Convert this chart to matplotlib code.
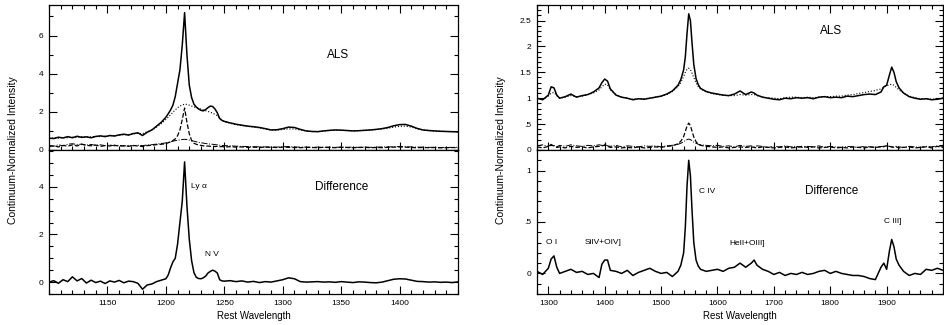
import matplotlib
matplotlib.use("Agg")
import matplotlib.pyplot as plt
from matplotlib.ticker import MultipleLocator, FuncFormatter

plt.rcParams['font.family'] = ['Liberation Sans', 'DejaVu Sans']

# ---- left panel (Ly alpha region) ----
wl_left = [1100, 1104, 1108, 1112, 1116, 1120, 1124, 1128, 1132, 1136, 1140, 1144, 1148,
           1152, 1156, 1160, 1164, 1168, 1172, 1176, 1180, 1184, 1188, 1192, 1196,
           1200, 1202, 1204, 1206, 1208, 1210, 1212, 1214, 1216, 1218, 1220, 1222, 1224,
           1226, 1228, 1230, 1232, 1234, 1236, 1238, 1240, 1242, 1244, 1246, 1248, 1250,
           1255, 1260, 1265, 1270, 1275, 1280, 1285, 1290, 1295, 1300, 1305, 1310, 1315,
           1320, 1325, 1330, 1335, 1340, 1345, 1350, 1355, 1360, 1365, 1370, 1375, 1380,
           1385, 1390, 1395, 1400, 1405, 1410, 1415, 1420, 1425, 1430, 1435, 1440, 1445, 1450]

als_left = [0.62, 0.60, 0.67, 0.63, 0.70, 0.64, 0.72, 0.66, 0.69, 0.64, 0.71, 0.74, 0.70,
            0.76, 0.73, 0.79, 0.83, 0.78, 0.86, 0.90, 0.76, 0.93, 1.05, 1.25, 1.45,
            1.72, 1.90, 2.10, 2.35, 2.80, 3.50, 4.20, 5.50, 7.20, 5.00, 3.40, 2.75, 2.40,
            2.25, 2.15, 2.08, 2.05, 2.12, 2.22, 2.30, 2.28, 2.15, 1.95, 1.65, 1.55, 1.50,
            1.42, 1.35, 1.30, 1.25, 1.22, 1.18, 1.12, 1.05, 1.06, 1.12, 1.20, 1.18, 1.08,
            1.00, 0.97, 0.96, 1.00, 1.03, 1.05, 1.04, 1.02, 1.00, 1.01, 1.03, 1.05, 1.08,
            1.12, 1.18, 1.27, 1.33, 1.34, 1.25, 1.13, 1.05, 1.02, 1.00, 0.98, 0.97, 0.96, 0.95]

broad_left = [0.60, 0.63, 0.62, 0.66, 0.64, 0.68, 0.66, 0.70, 0.67, 0.69, 0.71, 0.70, 0.73,
              0.74, 0.76, 0.77, 0.80, 0.81, 0.84, 0.87, 0.86, 0.95, 1.05, 1.20, 1.38,
              1.60, 1.72, 1.85, 1.98, 2.10, 2.22, 2.30, 2.36, 2.40, 2.39, 2.35, 2.30, 2.26,
              2.22, 2.18, 2.14, 2.10, 2.06, 2.02, 1.98, 1.93, 1.87, 1.80, 1.68, 1.56, 1.48,
              1.40, 1.33, 1.28, 1.24, 1.20, 1.16, 1.10, 1.05, 1.04, 1.07, 1.11, 1.10, 1.05,
              1.00, 0.97, 0.97, 0.99, 1.02, 1.03, 1.03, 1.02, 1.01, 1.02, 1.03, 1.05, 1.07,
              1.10, 1.14, 1.20, 1.24, 1.25, 1.20, 1.11, 1.05, 1.02, 1.00, 0.98, 0.97, 0.96, 0.95]

narrow_left = [0.18, 0.22, 0.16, 0.24, 0.20, 0.27, 0.21, 0.30, 0.24, 0.22, 0.26, 0.19, 0.23,
               0.21, 0.25, 0.20, 0.22, 0.19, 0.24, 0.21, 0.18, 0.23, 0.25, 0.28, 0.30,
               0.33, 0.38, 0.42, 0.50, 0.58, 0.75, 1.05, 1.60, 2.20, 1.45, 0.85, 0.50, 0.35,
               0.30, 0.26, 0.24, 0.22, 0.20, 0.21, 0.19, 0.20, 0.18, 0.19, 0.17, 0.18, 0.16,
               0.17, 0.15, 0.16, 0.14, 0.15, 0.13, 0.15, 0.14, 0.13, 0.15, 0.14, 0.13, 0.12,
               0.14, 0.13, 0.12, 0.14, 0.13, 0.12, 0.14, 0.13, 0.12, 0.13, 0.14, 0.12, 0.13,
               0.12, 0.14, 0.15, 0.16, 0.15, 0.13, 0.12, 0.13, 0.12, 0.13, 0.11, 0.12, 0.13, 0.12]

other_left = [0.24, 0.20, 0.27, 0.22, 0.30, 0.33, 0.28, 0.31, 0.26, 0.29, 0.24, 0.27, 0.23,
              0.26, 0.22, 0.25, 0.21, 0.24, 0.22, 0.25, 0.23, 0.26, 0.28, 0.31, 0.34,
              0.37, 0.40, 0.43, 0.46, 0.49, 0.51, 0.53, 0.55, 0.56, 0.55, 0.52, 0.49, 0.46,
              0.43, 0.40, 0.38, 0.36, 0.34, 0.32, 0.31, 0.30, 0.28, 0.27, 0.25, 0.24, 0.23,
              0.22, 0.20, 0.19, 0.18, 0.17, 0.17, 0.16, 0.16, 0.15, 0.17, 0.18, 0.16, 0.15,
              0.15, 0.14, 0.15, 0.14, 0.15, 0.14, 0.15, 0.14, 0.15, 0.14, 0.15, 0.14, 0.15,
              0.16, 0.16, 0.17, 0.18, 0.17, 0.16, 0.15, 0.15, 0.14, 0.14, 0.13, 0.14, 0.13, 0.14]

diff_left = [0.00, 0.06, -0.05, 0.10, 0.02, 0.22, 0.05, 0.15, -0.04, 0.08, -0.02, 0.04, -0.06,
             0.05, 0.00, 0.07, -0.03, 0.04, 0.02, -0.05, -0.30, -0.12, -0.08, 0.02, 0.08,
             0.14, 0.30, 0.60, 0.85, 1.00, 1.60, 2.50, 3.40, 5.05, 3.20, 1.80, 0.90, 0.40,
             0.20, 0.15, 0.14, 0.18, 0.25, 0.38, 0.45, 0.50, 0.46, 0.38, 0.10, 0.05, 0.04,
             0.06, 0.02, 0.05, 0.00, 0.03, -0.02, 0.02, 0.00, 0.05, 0.10, 0.18, 0.14, 0.02,
             0.00, 0.01, 0.02, 0.00, 0.01, -0.01, 0.02, 0.00, -0.02, 0.01, 0.00, -0.02, -0.03,
             0.00, 0.06, 0.12, 0.14, 0.13, 0.08, 0.03, 0.02, 0.00, 0.01, -0.01, 0.00, -0.02, 0.01]

# ---- right panel (C IV region) ----
wl_right = [1280, 1290, 1300, 1305, 1310, 1315, 1320, 1330, 1340, 1350, 1360, 1370, 1380,
            1390, 1395, 1400, 1405, 1410, 1420, 1430, 1440, 1450, 1460, 1470, 1480, 1490,
            1500, 1510, 1520, 1530, 1535, 1540, 1543, 1546, 1549, 1552, 1555, 1558, 1562,
            1566, 1570, 1580, 1590, 1600, 1610, 1620, 1630, 1640, 1650, 1660, 1665, 1670,
            1680, 1690, 1700, 1710, 1720, 1730, 1740, 1750, 1760, 1770, 1780, 1790, 1800,
            1810, 1820, 1830, 1840, 1850, 1860, 1870, 1880, 1890, 1895, 1900, 1905, 1909,
            1913, 1917, 1922, 1930, 1940, 1950, 1960, 1970, 1980, 1990, 2000]

als_right = [1.00, 0.97, 1.06, 1.22, 1.20, 1.06, 1.00, 1.03, 1.08, 1.02, 1.05, 1.07, 1.12,
             1.20, 1.30, 1.37, 1.33, 1.18, 1.06, 1.02, 1.00, 0.97, 0.99, 0.98, 1.00, 1.02,
             1.04, 1.08, 1.14, 1.25, 1.36, 1.55, 1.80, 2.25, 2.63, 2.50, 2.05, 1.65, 1.38,
             1.26, 1.19, 1.13, 1.10, 1.08, 1.06, 1.05, 1.08, 1.14, 1.07, 1.12, 1.10, 1.06,
             1.02, 1.00, 0.98, 0.97, 1.00, 0.99, 1.01, 1.00, 1.01, 0.99, 1.02, 1.03, 1.01,
             1.02, 1.01, 1.04, 1.03, 1.05, 1.07, 1.08, 1.07, 1.12, 1.22, 1.25, 1.45, 1.60,
             1.50, 1.32, 1.20, 1.10, 1.03, 1.00, 0.98, 0.99, 0.97, 0.98, 1.00]

broad_right = [1.00, 0.98, 1.04, 1.10, 1.11, 1.05, 1.00, 1.02, 1.05, 1.03, 1.04, 1.07, 1.10,
               1.16, 1.22, 1.27, 1.26, 1.16, 1.07, 1.02, 1.00, 0.98, 0.99, 0.99, 1.00, 1.02,
               1.04, 1.07, 1.13, 1.22, 1.30, 1.42, 1.50, 1.56, 1.58, 1.55, 1.48, 1.40, 1.30,
               1.22, 1.18, 1.12, 1.09, 1.07, 1.06, 1.05, 1.05, 1.07, 1.06, 1.07, 1.07, 1.05,
               1.02, 1.01, 1.00, 0.99, 1.01, 1.02, 1.02, 1.01, 1.02, 1.01, 1.02, 1.03, 1.03,
               1.04, 1.04, 1.06, 1.07, 1.09, 1.11, 1.13, 1.15, 1.18, 1.21, 1.24, 1.26, 1.27,
               1.25, 1.21, 1.16, 1.10, 1.04, 1.01, 0.99, 0.99, 0.98, 0.99, 1.00]

narrow_right = [0.06, 0.04, 0.07, 0.09, 0.08, 0.05, 0.06, 0.04, 0.07, 0.05, 0.06, 0.04, 0.06,
                0.07, 0.08, 0.09, 0.07, 0.05, 0.06, 0.04, 0.05, 0.04, 0.06, 0.04, 0.05, 0.06,
                0.05, 0.07, 0.08, 0.12, 0.17, 0.26, 0.36, 0.46, 0.52, 0.47, 0.36, 0.25, 0.16,
                0.11, 0.09, 0.07, 0.06, 0.05, 0.06, 0.04, 0.05, 0.06, 0.05, 0.06, 0.05, 0.04,
                0.06, 0.05, 0.04, 0.05, 0.06, 0.04, 0.05, 0.07, 0.05, 0.06, 0.04, 0.05, 0.06,
                0.04, 0.05, 0.04, 0.06, 0.05, 0.04, 0.06, 0.05, 0.06, 0.07, 0.08, 0.07, 0.06,
                0.05, 0.06, 0.04, 0.05, 0.06, 0.04, 0.05, 0.06, 0.04, 0.07, 0.05]

other_right = [0.08, 0.10, 0.07, 0.11, 0.09, 0.06, 0.09, 0.07, 0.10, 0.08, 0.07, 0.09, 0.08,
               0.10, 0.09, 0.11, 0.08, 0.07, 0.09, 0.06, 0.08, 0.07, 0.06, 0.08, 0.07, 0.08,
               0.06, 0.08, 0.09, 0.11, 0.13, 0.16, 0.18, 0.20, 0.21, 0.20, 0.18, 0.15, 0.13,
               0.11, 0.10, 0.09, 0.08, 0.09, 0.07, 0.08, 0.06, 0.09, 0.07, 0.08, 0.06, 0.08,
               0.07, 0.05, 0.07, 0.06, 0.08, 0.06, 0.07, 0.05, 0.07, 0.06, 0.08, 0.05, 0.07,
               0.06, 0.05, 0.07, 0.06, 0.05, 0.07, 0.06, 0.05, 0.07, 0.06, 0.08, 0.07, 0.06,
               0.05, 0.07, 0.06, 0.05, 0.07, 0.06, 0.05, 0.07, 0.06, 0.08, 0.07]

diff_right = [0.02, -0.01, 0.05, 0.14, 0.17, 0.06, 0.00, 0.02, 0.04, 0.01, 0.02, -0.01, 0.00,
              -0.04, 0.09, 0.13, 0.13, 0.03, 0.02, 0.00, 0.03, -0.02, 0.01, 0.03, 0.05, 0.02,
              0.00, 0.01, -0.03, 0.02, 0.08, 0.20, 0.45, 0.85, 1.10, 0.95, 0.60, 0.30, 0.13,
              0.07, 0.04, 0.02, 0.03, 0.04, 0.02, 0.05, 0.06, 0.10, 0.06, 0.10, 0.13, 0.08,
              0.04, 0.02, -0.01, 0.01, -0.02, 0.00, -0.01, 0.01, -0.01, 0.00, 0.02, 0.03, 0.00,
              0.02, 0.00, -0.01, -0.02, -0.02, -0.03, -0.05, -0.06, 0.06, 0.10, 0.04, 0.22, 0.33,
              0.26, 0.14, 0.08, 0.02, -0.02, 0.00, -0.01, 0.04, 0.03, 0.05, 0.03]

left_ticks = [1150, 1200, 1250, 1300, 1350, 1400]
right_ticks = [1300, 1400, 1500, 1600, 1700, 1800, 1900]

left_lines = ["Ly \u03b1", "N V"]
left_line_pos = [(1228, 4.0), (1239, 1.18)]
right_lines = ["O I", "SiIV+OIV]", "C IV", "HeII+OIII]", "C III]"]
right_line_pos = [(1305, 0.30), (1397, 0.30), (1581, 0.80), (1652, 0.29), (1910, 0.50)]


def nolead(v, pos):
    s = ("%g" % v)
    if s.startswith("0."):
        s = s[1:]
    return s


def style(ax, ticks, xmin, ymaj, ymin, top_ticks):
    ax.set_xticks(ticks)
    ax.xaxis.set_minor_locator(MultipleLocator(xmin))
    ax.yaxis.set_major_locator(MultipleLocator(ymaj))
    ax.yaxis.set_minor_locator(MultipleLocator(ymin))
    ax.yaxis.set_major_formatter(FuncFormatter(nolead))
    ax.tick_params(which='both', direction='in', right=True, top=top_ticks,
                   labelsize=6, pad=4, width=0.8)
    ax.tick_params(which='major', length=6)
    ax.tick_params(which='minor', length=3)
    for sp in ax.spines.values():
        sp.set_linewidth(0.9)


fig = plt.figure(figsize=(9.45, 3.25), dpi=100)

# left column
axL1 = fig.add_axes([0.0519, 0.5385, 0.4328, 0.4461])
axL2 = fig.add_axes([0.0519, 0.0954, 0.4328, 0.4431])
axL1.plot(wl_left, als_left, color='k', lw=1.1)
axL1.plot(wl_left, broad_left, color='k', lw=0.8, ls=':')
axL1.plot(wl_left, narrow_left, color='k', lw=0.9, ls='--')
axL1.plot(wl_left, other_left, color='k', lw=0.7, ls='-.')
axL1.set_xlim(1100, 1450)
axL1.set_ylim(0, 7.6)
style(axL1, left_ticks, 10, 2, 1, True)
axL1.text(1347, 5.0, "ALS", fontsize=8.5, ha='center', va='center')

axL2.plot(wl_left, diff_left, color='k', lw=1.1)
axL2.set_xlim(1100, 1450)
axL2.set_ylim(-0.5, 5.55)
style(axL2, left_ticks, 10, 2, 0.5, False)
axL2.text(1350, 4.0, "Difference", fontsize=8.5, ha='center', va='center')
for lab, (x, y) in zip(left_lines, left_line_pos):
    axL2.text(x, y, lab, fontsize=6, ha='center', va='center')

# right column
axR1 = fig.add_axes([0.5683, 0.5385, 0.4296, 0.4461])
axR2 = fig.add_axes([0.5683, 0.0954, 0.4296, 0.4431])
axR1.plot(wl_right, als_right, color='k', lw=1.1)
axR1.plot(wl_right, broad_right, color='k', lw=0.8, ls=':')
axR1.plot(wl_right, narrow_right, color='k', lw=0.9, ls='--')
axR1.plot(wl_right, other_right, color='k', lw=0.7, ls='-.')
axR1.set_xlim(1280, 2000)
axR1.set_ylim(0, 2.8)
style(axR1, right_ticks, 20, 0.5, 0.1, True)
axR1.text(1802, 2.3, "ALS", fontsize=8.5, ha='center', va='center')

axR2.plot(wl_right, diff_right, color='k', lw=1.1)
axR2.set_xlim(1280, 2000)
axR2.set_ylim(-0.2, 1.2)
style(axR2, right_ticks, 20, 0.5, 0.1, False)
axR2.text(1802, 0.8, "Difference", fontsize=8.5, ha='center', va='center')
for lab, (x, y) in zip(right_lines, right_line_pos):
    axR2.text(x, y, lab, fontsize=6, ha='center', va='center')

fig.text(0.0138, 0.538, "Continuum-Normalized Intensity", rotation=90,
         fontsize=7.5, ha='center', va='center')
fig.text(0.530, 0.538, "Continuum-Normalized Intensity", rotation=90,
         fontsize=7.5, ha='center', va='center')
fig.text(0.2683, 0.028, "Rest Wavelength", fontsize=7, ha='center', va='center')
fig.text(0.7831, 0.028, "Rest Wavelength", fontsize=7, ha='center', va='center')

fig.savefig("out.png", dpi=100)
